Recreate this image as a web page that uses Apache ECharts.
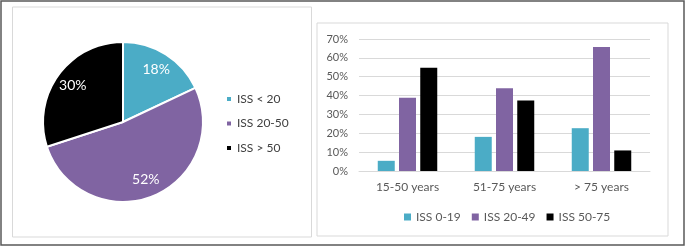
<!DOCTYPE html>
<html lang="en">
  <head>
    <meta charset="UTF-8" />
    <title>ISS distribution</title>
    <script src="https://cdn.jsdelivr.net/npm/echarts@6/dist/echarts.min.js"></script>
    <style>
      body { margin: 0; background: #fff; }
    </style>
  </head>
  <body>
    <div id="main" style="width: 685px; height: 247px"></div>
    <script type="text/javascript">
      // Pie data
      const pieNames = ["ISS < 20", "ISS 20-50", "ISS > 50"];
      const pieValues = [18, 52, 30];

      // Bar data (shares per age group)
      const ageGroups = ["15-50 years", "51-75 years", "> 75 years"];
      const barSeriesNames = ["ISS 0-19", "ISS 20-49", "ISS 50-75"];
      const iss0_19 = [0.054, 0.181, 0.227];
      const iss20_49 = [0.389, 0.439, 0.658];
      const iss50_75 = [0.548, 0.374, 0.109];
      const yTicks = [0, 0.1, 0.2, 0.3, 0.4, 0.5, 0.6, 0.7];

      const colors = ["#4BACC6", "#8064A2", "#000000"];
      const font = "Lato";

      let myChart = echarts.init(document.getElementById("main"));

      const pieData = pieNames.map((n, i) => ({
        name: n,
        value: pieValues[i],
        itemStyle: { color: colors[i] },
      }));

      const barValues = [iss0_19, iss20_49, iss50_75];

      let options = {
        animation: false,
        textStyle: { fontFamily: font },
        graphic: [
          { type: "rect", shape: { x: 1, y: 1, width: 683, height: 244 }, style: { fill: null, stroke: "#595959", lineWidth: 1.5 } },
          { type: "rect", shape: { x: 12.5, y: 7, width: 299, height: 230 }, style: { fill: null, stroke: "#d9d9d9", lineWidth: 1 } },
          { type: "rect", shape: { x: 317, y: 23, width: 351, height: 213 }, style: { fill: null, stroke: "#d9d9d9", lineWidth: 1 } },
        ],
        legend: [
          {
            data: pieNames,
            orient: "vertical",
            left: 220,
            top: 88,
            itemGap: 12.5,
            itemWidth: 6,
            itemHeight: 6,
            icon: "rect",
            textStyle: { fontFamily: font, fontSize: 12, color: "#404040" },
          },
          {
            data: barSeriesNames,
            orient: "horizontal",
            left: 399,
            top: 206,
            itemGap: 11,
            itemWidth: 7,
            itemHeight: 7,
            icon: "rect",
            textStyle: { fontFamily: font, fontSize: 12, color: "#595959" },
          },
        ],
        grid: { left: 359, right: 35, top: 39, bottom: 76 },
        xAxis: {
          type: "category",
          data: ageGroups,
          axisLine: { lineStyle: { color: "#d9d9d9" } },
          axisTick: { show: false },
          axisLabel: { color: "#595959", fontSize: 12, margin: 10, fontFamily: font },
        },
        yAxis: {
          type: "value",
          min: yTicks[0],
          max: yTicks[yTicks.length - 1],
          interval: 0.1,
          axisLine: { show: false },
          axisTick: { show: false },
          splitLine: { lineStyle: { color: "#d9d9d9" } },
          axisLabel: {
            color: "#595959",
            fontSize: 11,
            margin: 11,
            fontFamily: font,
            formatter: (v) => Math.round(v * 100) + "%",
          },
        },
        series: [
          {
            type: "pie",
            center: [123, 122],
            radius: [0, 80],
            startAngle: 90,
            data: pieData,
            label: { show: false },
            labelLine: { show: false },
            itemStyle: { borderColor: "#fff", borderWidth: 2 },
          },
          // label-only overlay so the percentages sit further out
          {
            type: "pie",
            center: [123, 122],
            radius: [38, 80],
            startAngle: 90,
            silent: true,
            legendHoverLink: false,
            data: pieData.map((d) => ({ name: d.name, value: d.value })),
            itemStyle: { color: "rgba(0,0,0,0)" },
            label: {
              show: true,
              position: "inside",
              formatter: "{c}%",
              color: "#fff",
              fontSize: 14,
              fontFamily: font,
            },
            labelLine: { show: false },
          },
        ].concat(
          barSeriesNames.map((n, i) => ({
            name: n,
            type: "bar",
            data: barValues[i],
            barWidth: 17,
            barGap: "25%",
            itemStyle: { color: colors[i] },
          }))
        ),
      };

      myChart.setOption(options);
    </script>
  </body>
</html>
